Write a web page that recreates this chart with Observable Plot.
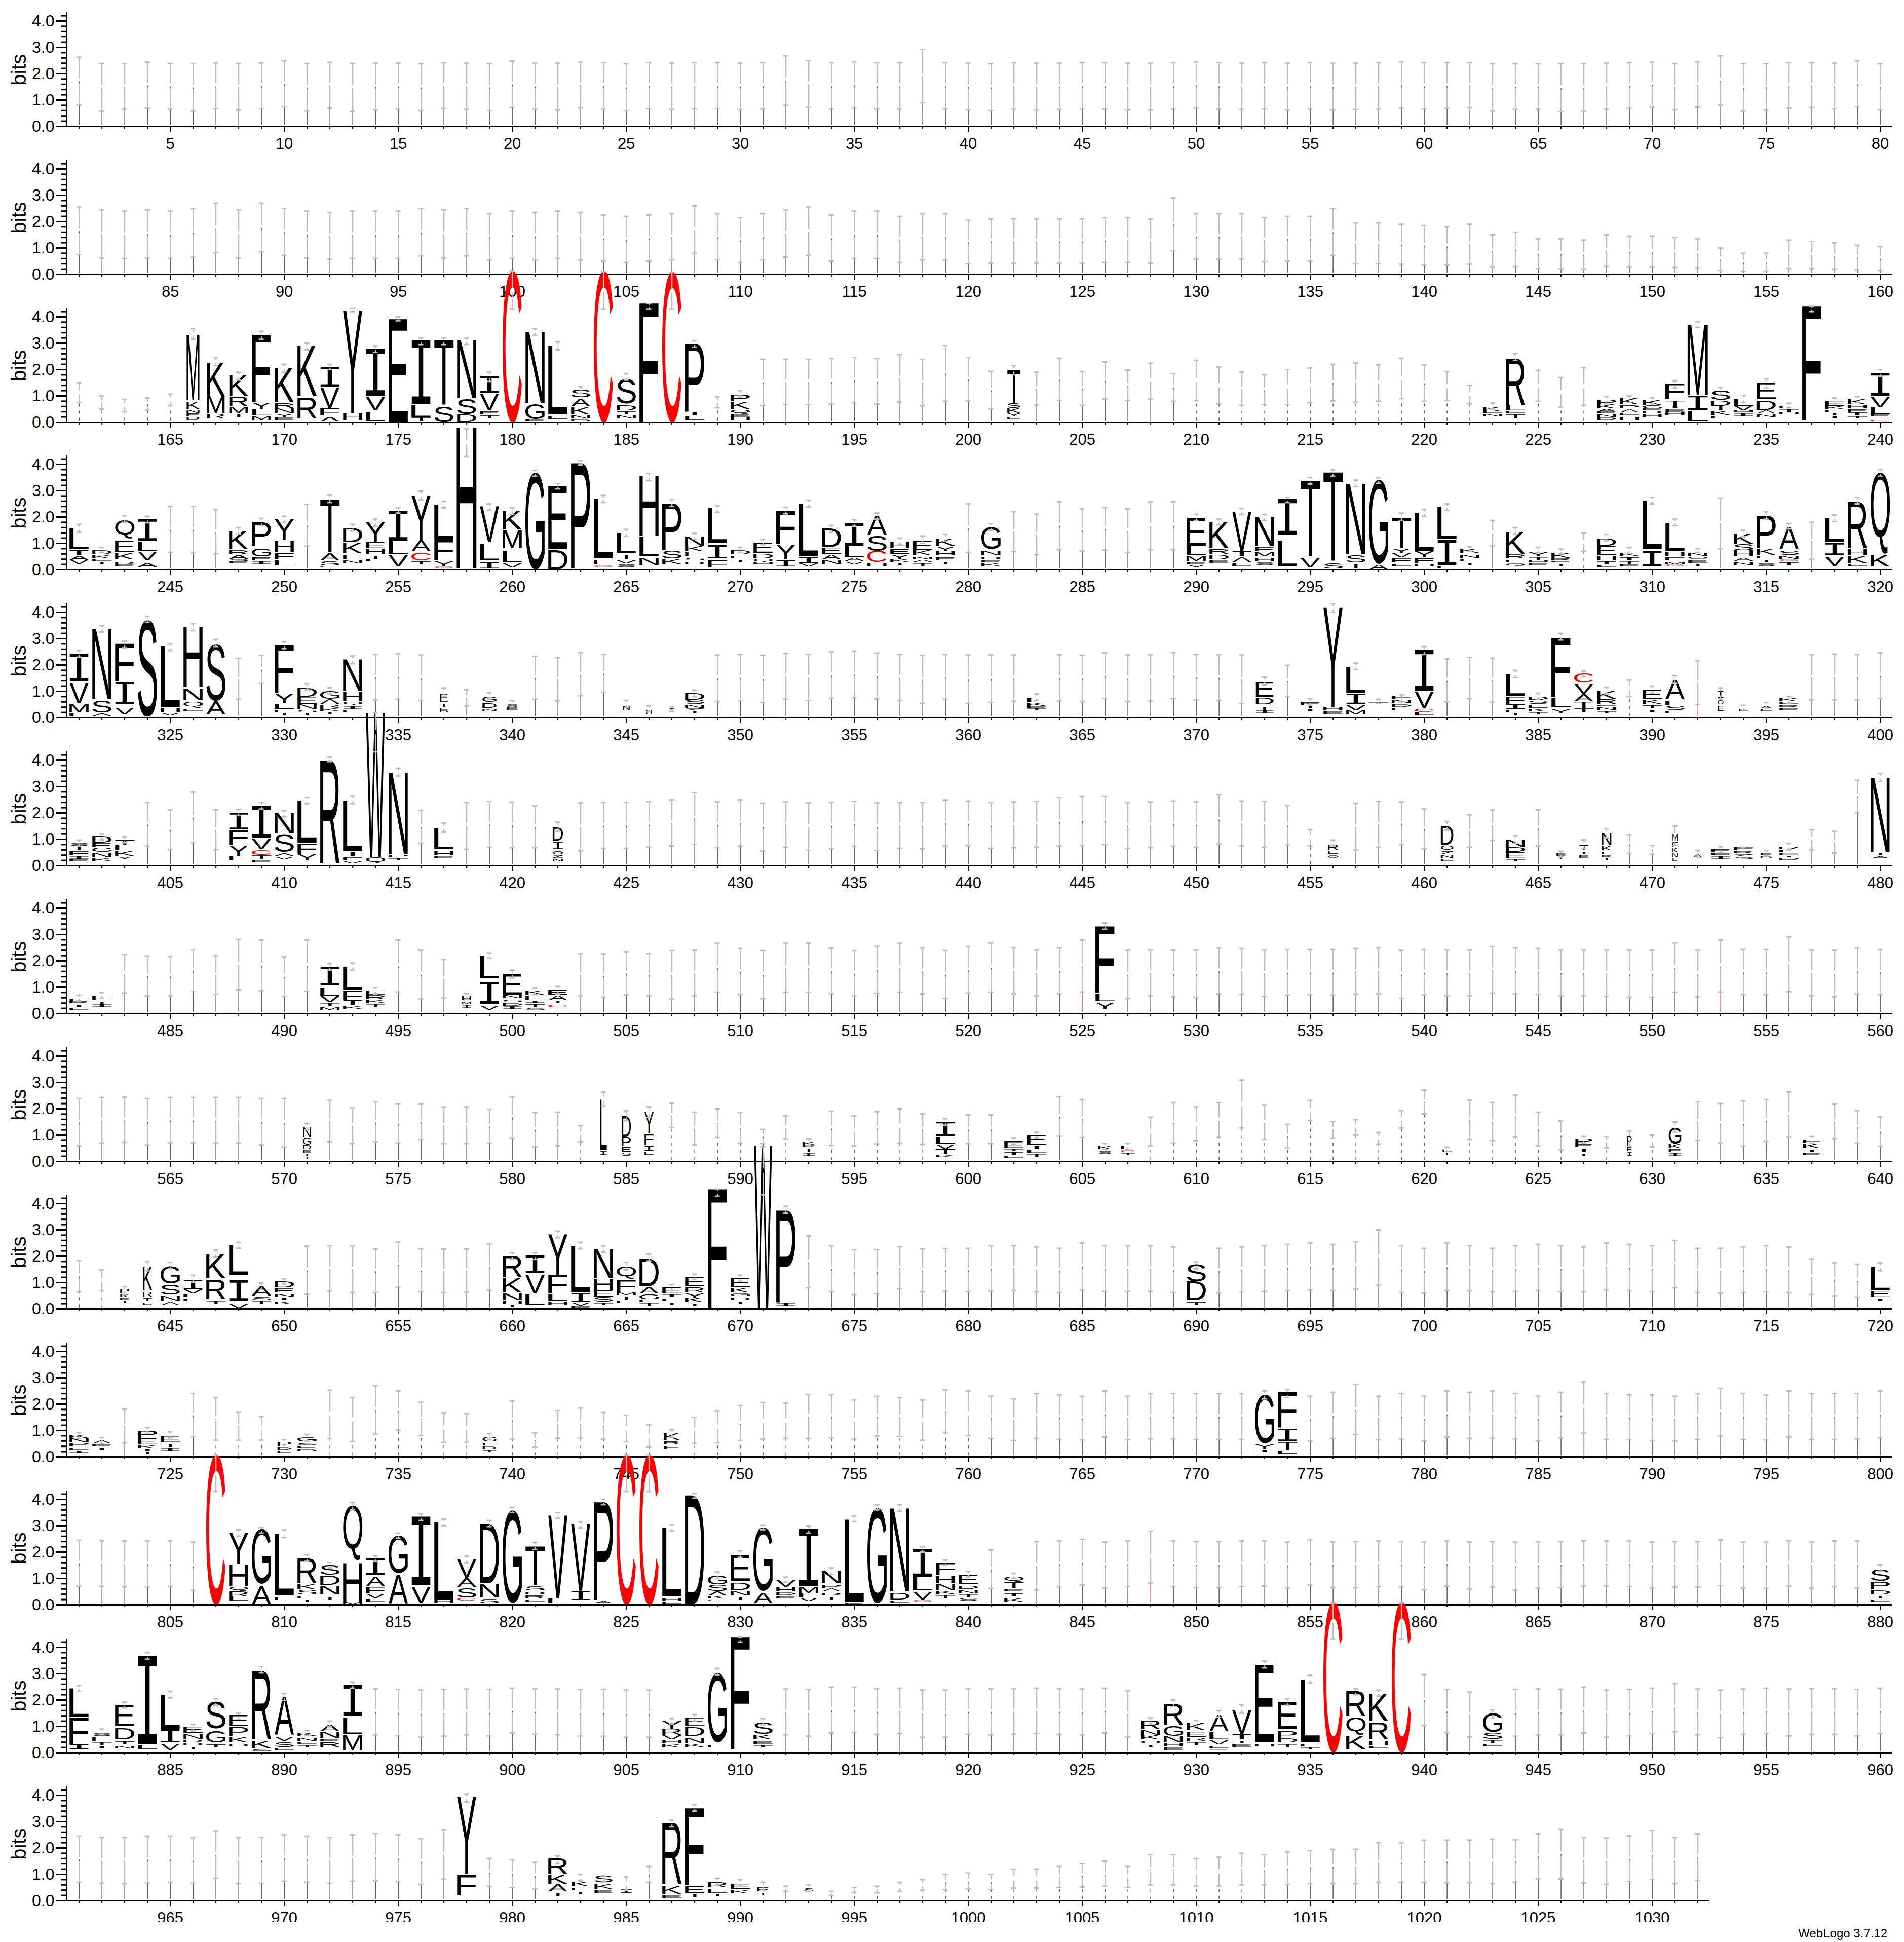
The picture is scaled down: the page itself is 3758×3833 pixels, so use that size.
<!DOCTYPE html>
<html><head><meta charset="utf-8">
<style>html,body{margin:0;padding:0;background:#fff;overflow:hidden}svg{display:block}
#credit{position:absolute;right:33px;top:3802px;font:24px "Liberation Sans",Arial,sans-serif;color:#000}</style>
<script src="https://cdn.jsdelivr.net/npm/d3@7"></script>
<script src="https://cdn.jsdelivr.net/npm/@observablehq/plot@0.6"></script>
</head><body><div id="chart"></div><div id="credit">WebLogo 3.7.12</div>
<script>
const yMajor=[0,1,2,3,4];
const yMinor=[.2,.4,.6,.8,1.2,1.4,1.6,1.8,2.2,2.4,2.6,2.8,3.2,3.4,3.6,3.8,4.2];
const redFull=[392,525,553,787,848];
const redTip=[428,445,580,622,728,740];
const redBase=[136,142];
const dashedRanges=[[161,165],[189,189],[210,222],[225,227],[307,307],[389,389],[455,455],[583,583],[587,598],[606,630],[641,643],[727,760],[995,1012]];

const hiR01=[2.63,2.39,2.39,2.44,2.39,2.39,2.41,2.39,2.41,2.49,2.39,2.43,2.39,2.4,2.4,2.38,2.42,2.4,2.38,2.48,2.4,2.4,2.45,2.42,2.38,2.42,2.4,2.42,2.42,2.4,2.42,2.68,2.5,2.42,2.45,2.42,2.42,2.92,2.42,2.4,2.38,2.42,2.4,2.4,2.42,2.42,2.4,2.4,2.42,2.45,2.42,2.4,2.42,2.4,2.42,2.4,2.4,2.42,2.45,2.42,2.42,2.42,2.38,2.38,2.38,2.38,2.38,2.4,2.42,2.45,2.38,2.45,2.68,2.38,2.38,2.42,2.42,2.4,2.49,2.38];
const loR01=[.81,.58,.65,.69,.65,.58,.67,.62,.67,.75,.58,.69,.56,.62,.65,.6,.68,.65,.6,.72,.65,.62,.7,.66,.6,.67,.64,.66,.68,.64,.66,.8,.72,.66,.7,.66,.66,.9,.66,.62,.6,.66,.62,.64,.66,.66,.62,.62,.66,.7,.66,.64,.66,.62,.66,.62,.64,.66,.7,.66,.68,.71,.58,.65,.65,.56,.58,.65,.69,.73,.63,.73,.81,.58,.62,.69,.71,.67,.75,.62];
const hiR02=[2.55,2.45,2.4,2.45,2.4,2.5,2.7,2.45,2.7,2.5,2.4,2.35,2.4,2.4,2.4,2.5,2.45,2.5,2.3,2.4,2.35,2.4,2.35,2.25,2.2,2.25,2.3,2.6,2.3,2.15,2.3,2.45,2.55,2.25,2.4,2.4,2.2,2.3,2.3,2.05,2.1,2.1,2.1,2.1,2.1,2.15,2.15,2.1,2.9,2.3,2.3,2.3,2.15,2.2,2.2,2.5,1.95,1.95,1.9,1.85,1.8,1.9,1.5,1.6,1.35,1.35,1.3,1.5,1.45,1.45,1.4,1.35,1,.8,.8,1.3,1.25,1.2,1.1,1.05];
const loR02=[.75,.62,.6,.62,.6,.66,.82,.62,.85,.72,.62,.58,.6,.6,.6,.7,.62,.7,.55,.6,.55,.6,.55,.5,.45,.5,.55,.8,.55,.45,.55,.65,.72,.5,.6,.6,.45,.55,.55,.4,.42,.42,.42,.42,.42,.45,.45,.42,.9,.58,.58,.58,.48,.5,.5,.72,.4,.4,.38,.35,.35,.38,.28,.3,.22,.22,.2,.3,.28,.28,.26,.24,.15,.12,.12,.22,.22,.2,.18,.15];
const hiR03=[1.5,1,.87,.92,1.07,3.55,2.45,1.9,3.45,2.2,3,2.2,4.33,2.9,4,3.2,3.2,3.2,1.9,5.75,3.55,3.05,1.35,5.72,1.85,4.5,5.7,3.1,.97,1.2,2.39,2.39,2.39,2.42,2.46,2.42,2.57,2.39,2.92,2.46,1.93,2.15,1.9,2.43,1.92,2.29,1.98,2.24,1.85,2.35,2.1,1.9,1.8,2,2.06,2.2,2.25,2.18,2.43,2.18,1.92,1.4,.73,2.6,1.97,1.7,2.07,.98,1,.93,1.58,3.82,1.32,1.02,1.65,.72,4.42,.92,.97,2];
const loR03=[.75,.5,.4,.47,.63,3.15,2.15,1.6,3.15,1.9,2.75,2,4.2,2.65,3.85,2.95,2.95,2.95,1.55,4.3,3.3,2.75,1.1,4.3,1.6,4.3,4.3,2.85,.55,.95,.64,.67,.67,.69,.74,.69,.77,.63,.8,.81,.51,1.8,.65,.83,.65,.88,.83,.88,.8,.82,.7,.65,.67,.67,.75,.81,.76,.8,.9,.8,.82,.7,.5,2.35,.8,.57,.64,.7,.75,.7,1.3,3.6,1.05,.75,1.3,.55,4.2,.7,.75,1.75];
const hiR04=[1.72,.85,2.05,2.03,2.4,2.4,2.28,1.6,1.95,2.03,2.48,2.83,1.72,1.92,2.35,2.98,2.6,5.35,2.5,2.35,3.77,3.27,4.15,2.82,1.53,3.65,2.67,1.38,2.43,.85,1.15,2.37,2.64,1.68,1.9,2.15,1.2,1.28,1.35,2.5,1.75,2.2,2.11,2.58,2.31,2.36,2.31,2.58,2.58,2.1,1.93,2.33,2.1,2.75,3.5,3.8,3.4,3.49,2.15,2.28,2.5,.87,1.87,1.6,.85,.78,1.4,1.35,.85,2.75,1.92,.8,2.72,1.5,2.2,1.76,1.8,2.08,2.75,3.8];
const loR04=[1.42,.65,1.8,1.78,.66,.66,.6,1.35,1.68,1.8,.9,2.55,1.47,1.65,2.15,2.65,2.35,4.3,2.25,2.1,3.55,3.07,3.98,2.55,1.27,3.38,2.4,1.15,2.18,.65,.95,2.12,2.38,1.42,1.65,1.92,.97,1,1.08,.66,1.5,.69,.57,.76,.71,.75,.66,.76,.76,1.87,1.7,2.1,1.87,2.55,3.25,3.55,3.15,3.28,1.87,2.03,2.25,.7,.9,1.35,.65,.6,.7,1.1,.62,2.5,1.67,.65,.8,1.25,1.92,1.55,.4,1.83,2.5,3.55];
const hiR05=[2.55,3.5,2.9,3.85,2.8,3.57,2.97,2.25,2.37,2.88,1.28,1.14,2.35,2.4,2.43,2.38,1.13,1.06,.95,.65,2.33,2.28,2.47,2.4,.66,.45,.42,1.05,2.38,2.4,2.37,2.44,2.4,2.5,2.53,2.45,2.4,2.37,2.4,2.38,2.38,2.38,.9,2.39,2.37,2.46,2.38,2.39,2.47,2.4,2.39,2.38,1.54,1.99,.72,4.32,2.07,.7,.87,2.7,2.23,2.29,2.26,1.8,.93,3.2,1.77,1.15,1.43,1.2,1.6,2.17,1.13,.47,.58,.8,2.39,2.41,2.4,2.46];
const loR05=[2.3,3.25,2.65,3.62,2.55,3.3,2.7,.7,1.3,2.62,1.05,.9,2.05,.68,.7,.65,.8,.44,.7,.42,.7,.64,.83,.97,.38,.22,.25,.8,.62,.65,.58,.7,.65,.74,.77,.71,.65,.54,.7,.54,.58,.63,.65,.64,.62,.73,.62,.64,.73,.68,.65,.54,1.24,.8,.47,4,1.83,.54,.6,2.4,.6,.72,.59,1.52,.7,2.95,1.55,.9,.8,.93,1.3,.5,.7,.3,.37,.55,.68,.68,.68,.73];
const hiR06=[.97,1.2,1.08,2.4,2.12,2.79,2.12,2.13,2.4,2.08,2.58,4.12,2.63,5.8,3.7,2.1,1.62,2.4,2.44,2.41,2.27,1.65,2.38,2.4,2.4,2.43,2.48,2.77,2.43,2.48,2.37,2.43,2.38,2.4,2.44,2.38,2.4,2.4,2.48,2.45,2.4,2.42,2.44,2.58,2.62,2.62,2.4,2.42,2.45,2.43,2.69,2.45,2.44,2.28,1.37,.97,2.37,2.44,2.42,2.15,1.67,1.93,2.12,1.13,2.12,.55,.98,1.4,1.16,.77,1.5,.58,.72,.7,.58,.85,1.36,1.3,3.24,3.5];
const loR06=[.73,.98,.87,.74,.62,.87,.6,1.9,2.15,1.85,2.35,3.95,2.35,4.32,3.4,.85,1.27,.62,.7,.68,.68,1.3,.56,.66,.66,.7,.75,.81,.68,.75,.56,.7,.58,.64,.74,.58,.66,.64,.75,.75,.66,.68,.7,.75,.77,.8,.66,.68,.74,.7,.82,.75,.7,.8,.75,.75,.59,.7,.8,.64,1.35,.7,.95,.85,.75,.33,.65,1.05,.47,.43,.77,.33,.5,.5,.37,.6,.6,.48,2.01,3.2];
const hiR07=[.7,.8,2.24,2.18,2.17,2.42,2.2,2.81,2.79,2.15,2.79,1.9,1.92,.98,2.79,2.4,2.05,.76,2.3,1.65,.97,1.03,2.28,2.27,2.35,2.28,2.39,2.4,2.67,2.47,2.39,2.67,2.67,2.48,2.39,2.55,2.67,2.49,2.39,2.54,2.68,2.49,2.41,2.49,2.79,3.44,2.4,2.41,2.4,2.4,2.49,2.47,2.41,2.43,2.43,2.43,2.47,2.49,2.4,2.43,2.41,2.41,2.54,2.49,2.47,2.41,2.41,2.41,2.4,2.4,2.68,2.4,2.79,2.43,2.43,2.91,2.41,2.4,2.49,2.43];
const loR07=[.48,.58,.78,.67,.67,.84,.73,.9,.87,.65,.85,1.65,1.65,.75,.82,.56,.6,.55,2.1,1.35,.72,.75,.67,.62,.71,.67,.55,.67,.81,.73,.57,.81,.81,.76,.67,.77,.81,.75,.58,.78,.81,.75,.68,.76,.82,3.2,.57,.68,.64,.62,.75,.73,.65,.7,.72,.7,.74,.75,.58,.7,.68,.68,.78,.75,.73,.68,.68,.65,.62,.62,.81,.64,.82,.72,.72,.83,.68,.64,.75,.72];
const hiR08=[2.39,2.43,2.44,2.39,2.43,2.43,2.43,2.43,2.39,2.39,1.45,2.32,2.05,2.26,2.19,2.19,2.07,2.07,1.98,2.45,1.86,1.87,1.36,2.63,1.92,2.08,2.21,1.87,2,1.86,1.22,1.73,.85,1.91,1.73,1.89,2,1.81,1.63,1.77,1.77,.89,1.11,2.46,2.35,.69,.69,1.68,2.24,2.07,2.23,3.09,2.15,1.41,2.32,1.52,1.59,1.1,1.93,2.71,.55,2.33,2.24,2.52,1.87,1.54,.95,.94,1.15,1,1.5,2.27,2.2,2.3,2.35,2.64,.95,2.19,1.93,1.7];
const loR08=[.6,.7,.72,.63,.71,.71,.7,.7,.63,.55,1.2,.75,.68,.73,.7,.82,.68,.68,.7,.88,.56,.6,.73,2.1,1.55,1.67,1.29,.63,.91,.7,.68,.84,.6,.61,.6,.67,.7,.66,1.38,.68,.68,.65,.88,.96,.91,.45,.45,.6,.7,.77,.91,1.27,.82,.51,1.56,.87,1,.66,1.27,1.81,.38,.82,.77,.93,.6,.45,.7,.52,.58,.56,1.12,.79,.7,.58,.76,.93,.7,.85,.7,.58];
const hiR09=[1.84,1.48,.84,1.8,1.77,1.28,2.23,2.53,.98,1.14,2.38,2.4,2.39,2.27,2.54,2.28,2.27,2.27,2.47,2.13,2.13,2.95,2.53,2.4,1.77,2.08,.92,1.32,4.55,1.28,6.15,3.9,2.77,2.39,2.25,2.25,2.36,2.28,2.29,2.3,2.4,2.4,2.35,2.3,2.5,2.4,2.4,2.4,2.35,1.78,2.3,2.35,2.4,2.45,2.5,2.45,2.55,3,2.4,2.3,2.5,2.4,2.3,2.4,2.45,2.4,2.35,2.5,2.45,2.4,2.6,2.3,2.3,2.35,2.4,2.35,1.9,1.75,1.7,1.75];
const loR09=[.65,.69,.55,1.45,1.53,1.02,1.97,2.3,.73,.95,.56,.67,.62,.62,.82,.65,.62,.64,.71,1.88,1.88,2.7,2.28,2.15,1.48,1.82,.7,1.12,4.28,1.05,4.33,3.63,.8,.65,.55,.58,.76,.65,.67,.65,.68,.7,.65,.62,.72,.66,.66,.66,.62,1.52,.6,.65,.66,.7,.72,.7,.75,.9,.62,.6,.7,.68,.65,.66,.7,.65,.65,.72,.7,.65,.8,.62,.6,.62,.65,.62,.55,.5,.45,1.45];
const hiR10=[.92,.73,1.82,1.12,.95,2.4,2.25,1.7,1.53,.65,.85,2.53,2.25,2.7,2.5,2.07,1.67,1.64,.88,2.12,.91,1.77,1.85,1.7,1.58,1.22,1.03,1.5,1.75,1.95,2.06,2.05,2.36,2.36,2.16,2.3,2.25,2.16,2.54,2.5,2.3,2.2,2.4,2.35,2.3,2.5,2.3,2.4,2.4,2.4,2.4,2.4,2.5,2.55,2.3,2.45,2.75,2.3,2.4,2.3,2.5,2.45,2.5,2.4,2.3,2.45,2.85,2.4,2.35,2.35,2.3,2.4,2.6,2.4,2.35,2.5,2.4,2.4,2.4,2.5];
const loR10=[.7,.5,.53,.88,.72,.76,.63,.63,.63,.45,.6,.69,.58,.87,1.02,.81,.55,.55,.65,.67,.37,.7,.72,.67,.57,.38,.75,.51,.53,.62,.67,.7,.7,.72,.67,.79,.77,.63,.93,.8,.7,.62,.7,.66,.64,.75,.65,.68,.68,.66,.66,.66,2.2,2.25,.6,.7,.85,.65,.68,.6,.75,.7,.72,.68,.6,.72,.9,.66,.65,.62,.6,.66,.8,.66,.64,.75,.66,.66,.68,.72];
const hiR11=[2.45,2.43,2.42,2.42,2.43,2.38,5.7,2.85,2.93,2.85,1.9,1.62,3.88,1.85,2.72,3.45,3.25,1.85,3.2,3.7,2.37,3.5,3.15,4,5.7,5.7,3.05,4.23,1.25,2.05,3.03,1.05,3,1.4,3.37,3.8,3.8,2.2,1.7,1.27,2.08,1.2,2.4,2.42,2.48,2.38,2.42,2.79,2.42,2.4,2.4,2.42,2.43,2.38,2.47,2.39,2.4,2.42,2.4,2.38,2.42,2.38,2.4,2.38,2.39,2.4,2.43,2.42,2.42,2.39,2.4,2.4,2.46,2.38,2.39,2.43,2.39,2.42,2.42,1.52];
const loR11=[.71,.7,.68,.68,.7,.55,4.3,2.6,2.72,2.55,1.65,1.4,3.6,1.65,2.53,3.2,3,1.6,2.97,3.5,2.1,3.28,2.92,3.8,4.3,4.3,2.8,4.05,1,1.8,2.85,.85,2.72,1.15,3.15,3.6,3.55,2,1.5,1.05,.62,1,.56,.69,.75,.63,.69,.82,.69,.65,.65,.69,.71,.63,.75,.65,.65,.69,.69,.56,.71,.6,.67,.56,.63,.65,.71,.71,.69,.63,.67,.67,.73,.63,.63,.71,.63,.69,.63,1.28];
const hiR12=[2.55,.9,1.92,3.8,2.33,1.08,2.05,1.5,3.27,2.25,.85,1.2,2.68,2.42,2.4,2.38,2.4,2.42,2.4,2.45,2.43,2.42,2.4,2.4,2.38,2.38,1.3,1.45,3.2,4.4,1.3,2.42,2.4,2.49,2.49,2.43,2.45,2.38,2.38,2.43,2.43,2.43,2.45,2.43,2.42,2.45,2.35,1.33,2,1.22,1.6,1.82,3.48,2.05,2.95,5.7,2.43,2.38,5.7,2.97,2.4,2.3,1.63,2.4,2.42,2.41,2.49,2.38,2.4,2.45,2.63,2.42,2.38,2.42,2.45,2.42,2.43,2.43,2.4,2.45];
const loR12=[2.33,.7,1.7,3.55,2.08,.83,1.78,1.27,3.03,1.98,.65,.98,2.45,.68,.64,.59,.63,.68,.64,.75,.7,.68,.63,.63,.59,.59,1.1,1.2,2.95,4.2,1.05,.68,.63,.75,.76,.7,.73,.59,.59,.7,.68,.7,.73,.7,.68,.75,.6,1.1,1.75,1,1.35,1.5,3.22,1.8,2.65,4.32,2.2,2.15,4.32,1.03,.76,.6,1.32,.63,.68,.68,.75,.59,.64,.73,.8,.68,.57,.7,.73,.64,.7,.7,.64,.73];
const hiR13=[2.45,2.4,2.4,2.45,2.45,2.4,2.65,2.4,2.4,2.5,2.45,2.4,2.5,2.55,2.5,2.35,2.7,4.05,1.6,1.55,1.45,1.7,1,.95,.9,1.3,3.05,3.65,.85,.8,.7,.55,.6,.35,.5,.55,.7,.8,1,1.05,1,1.2,1.2,1.3,1.4,1.5,1.3,1.75,1.75,1.6,1.65,1.8,1.75,1.85,1.9,1.95,1.95,2.2,2.2,2.3,2.3,2.3,2.33,2.31,2.54,2.72,2.4,2.38,2.46,2.67,2.4,2.54];
const loR13=[.7,.66,.65,.68,.7,.66,.85,.65,.66,.74,.7,.66,.74,.75,.72,.62,.82,3.75,.55,.5,.45,1.4,.75,.7,.4,.7,2.8,3.4,.6,.55,.4,.35,.35,.2,.3,.3,.35,.4,.42,.45,.42,.48,.48,.5,.52,.55,.5,.6,.6,.55,.55,.6,.6,.62,.65,.65,.65,.7,.7,.7,.68,.68,.65,.71,.83,.83,.67,.62,.73,.81,.65,.77];

const stacksR03=[
[166,.57,"M.83-3.32 K.5-.78 N.35-.48 E.22-.33 D.1-.2"],[167,.78,"K1-2.25 M.35-.98 R.15-.33"],[168,.82,"K1-1.75 R.6-.98 M.35-.58 T.2-.33"],
[169,.82,"F.75-3.32 Y.5-.73 L.25-.48 M.1-.23"],[170,.85,"K.75-2.05 R.55-.73 N.35-.53 Y.2-.33 E.1-.18"],[171,.85,"K1-2.9 R.15-.95"],
[172,.85,"I1.35-2.1 V.55-1.3 F.25-.53 A.05-.2"],[173,.85,"Y.35-4.25 H.1-.33"],[174,.85,"I1-2.8 V.45-.95 L.05-.4"],[175,.85,"E0-3.92"],
[176,.85,"I.7-3.1 L.2-.65 T.06-.18"],[177,.85,"T.62-3.1 S.02-.6"],[178,.85,"N.92-3.1 S.3-.9 D.02-.28"],[179,.85,"I1.1-1.75 V.45-1.08 E.3-.42 T.15-.28"],
[180,.85,"C0-5.75"],[181,.85,"N.72-3.42 G.12-.7 E.04-.1"],[182,.85,"L.3-2.9 E.12-.24"],[183,.85,"S.95-1.25 A.6-.9 K.3-.58 N.15-.28 D.05-.13"],
[184,.85,"C0-5.75"],[185,.85,"S.7-1.65 D.45-.65 T.3-.43 N.15-.27"],[186,.85,"F0-4.52"],[187,.85,"C0-5.72"],[188,.85,"P.42-3 I.25-.4 L.1-.23"],
[190,.85,"P.8-1.05 K.5-.78 Q.32-.48 E.2-.3 H.1-.18"],
[202,.58,"T.73-1.98 S.55-.72 K.36-.52 Y.22-.34 E.12-.2"],
[223,.85,"K.42-.58 E.35-.41 N.22-.32"],[224,.84,"R.65-2.45 L.45-.64 E.36-.43 T.15-.3"],
[228,.85,"P.69-.87 K.52-.66 A.41-.5 E.34-.41 N.2-.3 D.1-.18"],[229,.85,"K.69-.9 P.53-.66 A.38-.5 E.28-.36 H.1-.2"],[230,.85,"K.66-.83 G.52-.64 E.45-.51 D.33-.42 H.2-.3"],
[231,.85,"F.87-1.45 T.62-.81 I.52-.61 E.4-.5 H.28-.38"],[232,.9,"M1.04-3.68 I.48-1.02 L.06-.43"],[233,.85,"S.85-1.2 D.62-.81 T.45-.62 K.27-.41 E.15-.25"],
[234,.85,"L.62-.87 V.46-.62 H.38-.45 I.24-.34"],[235,.85,"E.87-1.5 D.48-.81 A.34-.45 N.2-.3"],[236,.85,"E.52-.62 T.4-.5 H.3-.38"],[237,.85,"F.1-4.42"],
[238,.85,"E.62-.81 K.5-.6 E.38-.48 T.26-.36 I.14-.23"],[239,.85,"K.68-.87 H.53-.66 E.38-.5 I.25-.36 T.14-.22"],[240,.85,"I1-1.87 V.57-.97 L.31-.55 E.22-.29 C.05-.09"]];
const stacksR04=[
[241,.85,"L.77-1.57 I.55-.73 A.38-.53 V.22-.36 C.17-.2"],[242,.85,"D.58-.73 K.43-.56 E.34-.41 T.2-.3"],[243,.85,"Q1.19-1.9 E.66-1.11 K.4-.62 R.22-.3 E.12-.2"],
[244,.85,"I1.11-1.9 L.7-1.07 V.35-.66 A.1-.24"],[248,.85,"K.77-1.45 R.58-.73 A.42-.56 S.32-.4 E.24-.3"],[249,.85,"P.92-1.8 G.5-.81 E.35-.46 I.22-.32"],
[250,.85,"Y1.15-1.9 H.66-1.11 F.4-.62 L.17-.36"],[252,.85,"T.66-2.67 A.35-.62 S.16-.32 C.08-.12"],[253,.85,"D1.04-1.58 K.62-1 E.4-.58 N.24-.36"],
[254,.85,"Y1.07-1.8 E.81-1.04 H.58-.77 T.42-.54 L.32-.4"],[255,.85,"I1.11-2.23 L.58-1.07 V.13-.55"],[256,.85,"Y1.15-2.82 A.7-1.11 C.35-.66 T.2-.32"],
[257,.85,"L1.15-2.48 F.36-1.11 Y.13-.33 C.06-.1"],[258,.88,"H.05-5.4"],[259,.85,"V1.04-2.4 L.35-.96 I.05-.28"],[260,.85,"K1.53-2.25 M.81-1.49 L.28-.73 V.09-.24"],
[261,.85,"G0-3.69"],[262,.85,"E.77-3.17 D0-.73"],[263,.85,"P.05-4.05"],[264,.85,"L.43-2.7 E.2-.38 C.1-.16"],[265,.85,"L.62-1.38 T.4-.58 V.24-.36 S.1-.2"],
[266,.85,"H1.27-3.54 L.5-1.23 N.18-.46"],[267,.85,"P.74-2.52 S.43-.73 K.22-.4"],[268,.85,"N.92-1.26 K.7-.89 E.5-.66 S.35-.46 D.2-.3"],[269,.85,"L1-2.33 I.43-.92 F.09-.36"],
[270,.85,"D.58-.73 E.44-.54 T.28-.38"],
[271,.85,"E.64-1.03 D.44-.62 Q.3-.42 H.2-.27"],[272,.85,"F.99-2.23 Y.4-.96 I.12-.36"],[273,.85,"L.5-2.5 I.26-.47 V.12-.24"],[274,.85,"D.85-1.55 E.6-.82 A.4-.57 N.22-.36"],
[275,.85,"I.92-1.76 L.47-.89 A.33-.45 V.2-.3"],[276,.85,"A1.34-2.04 S.71-1.31 C.29-.71 H.15-.27"],[277,.85,"H.82-1.06 E.6-.78 Y.42-.57 K.3-.4 T.16-.26"],
[278,.85,"E.75-1.1 K.54-.73 N.4-.5 A.3-.38 T.14-.24"],[279,.85,"K.92-1.2 Y.71-.89 H.54-.68 E.36-.48 T.2-.3"],[281,.85,"G.78-1.62 N.54-.71 D.4-.5 E.28-.36 K.14-.24"],
[290,.85,"E.92-1.97 L.54-.89 M.33-.5 E.2-.28 V.1-.16"],[291,.85,"K.82-1.8 R.6-.78 D.4-.58 E.26-.36"],[292,.85,"V.71-2.22 I.5-.68 A.29-.47 L.15-.25"],
[293,.85,"N.89-2 E.71-.85 M.5-.65 H.32-.45 S.18-.28"],[294,.85,"I1.31-2.67 L.12-1.1"],[295,.85,"T.47-3.37 V.08-.41"],[296,.85,"T.29-3.7 S.05-.24"],
[297,.85,"N.61-3.27 S.27-.55 T.05-.22"],[298,.85,"G.22-3.41 A.01-.19"],[299,.85,"T.82-1.97 Y.64-.78 V.47-.62 F.28-.42 L.14-.22"],[300,.85,"L.71-2.15 Y.47-.68 F.26-.43 H.12-.2"],
[301,.85,"L1.17-2.39 I.19-1.13 E.05-.14"],[302,.85,"K.64-.78 N.46-.58 E.32-.42 T.18-.26"],[304,.85,"K.61-1.45 R.43-.57 E.28-.38 Q.14-.22"],[305,.85,"Y.5-.65 T.38-.47 H.28-.35 E.16-.24"],
[306,.85,"K.45-.62 R.36-.42 E.28-.32 T.14-.22"],[308,.85,"D.92-1.2 E.57-.89 H.36-.54 I.2-.32 L.1-.16"],[309,.85,"K.52-.65 I.36-.48 T.22-.32 E.12-.18"],[310,.85,"L.78-2.62 I.15-.71"],
[311,.85,"L.71-1.76 H.5-.68 F.36-.48 M.2-.3 C.14-.18"],[312,.85,"N.52-.65 Q.4-.48 E.26-.36 T.14-.22"],[314,.85,"K.99-1.38 S.73-.96 H.5-.71 A.34-.46 N.18-.28"],
[315,.85,"P.82-2.06 K.57-.78 E.43-.52 T.3-.38 S.15-.24"],[316,.85,"A.78-1.62 S.57-.72 N.42-.54 C.34-.39 T.16-.28"],[318,.85,"L1.06-1.94 I.57-1.01 V.15-.5"],
[319,.85,"R.82-2.6 H.54-.78 K.26-.5 E.14-.22"],[320,.85,"Q.6-3.68 K.12-.57"]];
const stacksR05=[
[321,.85,"I1.37-2.42 V.55-1.3 M.2-.52 L.05-.18"],[322,.85,"N.72-3.35 S.2-.66 A.07-.16"],[323,.85,"F1.37-2.8 I.5-1.35 V.13-.38"],[324,.85,"S.04-3.76"],
[325,.85,"L.41-2.69 H.2-.36 V.08-.17"],[326,.85,"H1.16-3.43 N.66-1.11 Q.38-.61 E.26-.34"],[327,.85,"S.66-2.82 A.13-.61"],[330,.85,"F.95-2.74 Y.55-.92 L.34-.5 E.2-.3 T.1-.16"],
[331,.85,"D.8-1.12 E.52-.78 N.34-.5 S.2-.3 T.1-.16"],[332,.85,"G.71-1.02 A.52-.7 R.38-.5 K.26-.36 T.14-.22"],[333,.85,"N1.02-2.2 H.63-1 Q.48-.6 I.34-.44 E.2-.3"],
[337,.35,"E.59-.91 I.4-.55 E.3-.38 D.2-.28"],[339,.62,"G.61-.8 D.38-.56 N.26-.34"],[340,.5,"S.41-.52 E.3-.39"],[345,.3,"N.3-.45"],[346,.25,"H.15-.3"],[347,.2,"T.2-.35"],
[348,.85,"D.68-.92 S.52-.66 N.38-.5 Z.28-.36 T.18-.26"],
[363,.85,"L.59-.75 K.46-.57 E.36-.44 T.28-.34"],[373,.78,"E.8-1.37 D.5-.75 T.3-.42 I.18-.26"],[375,.85,"E.48-.6 T.36-.46 I.24-.34"],[376,.85,"Y.41-4.18 H.27-.38 E.14-.24"],
[377,.85,"L.95-1.93 I.52-.9 V.27-.47 M.13-.27"],[378,.85,"T.5-.56"],[379,.85,"F.73-.84 N.56-.68 D.42-.52 E.28-.38"],[380,.85,"I1.02-2.58 V.38-1 C.21-.33 L.1-.19"],
[384,.85,"L.84-1.64 F.52-.8 I.33-.49 E.2-.3 T.1-.16"],[385,.85,"D.68-.8 S.52-.64 E.37-.48 K.24-.34 T.12-.2"],[386,.85,"F.77-3.02 L.41-.73 Y.16-.3"],
[387,.85,"C1.34-1.69 V.91-1.27 A.63-.9 T.38-.59 T.2-.34"],[388,.85,"K.73-1.02 R.52-.7 E.45-.48 N.3-.4 T.16-.24"],[390,.85,"E.7-1.05 K.52-.66 T.36-.48 I.2-.3"],
[391,.85,"A.7-1.44 L.48-.63 S.3-.44 E.16-.26"],[393,.25,"I.75-1 O.5-.65 E.25-.45"],[394,.4,"E.25-.33"],[395,.5,"A.35-.45 E.25-.32"],[396,.85,"K.62-.73 E.52-.58 R.4-.48 E.28-.36"]];
const stacksR06=[
[401,.85,"S.75-.85 T.6-.72 F.4-.55 I.26-.36 E.16-.22"],[402,.85,"D.87-1.09 E.7-.84 G.52-.68 N.32-.48 K.18-.28"],[403,.85,"T.8-.98 L.59-.78 K.38-.55 Y.26-.34"],
[408,.85,"I1.37-2.01 F.8-1.34 Y.38-.77 L.2-.34"],[409,.85,"I1.05-2.28 V.63-1.02 C.41-.59 T.23-.37 E.12-.2"],[410,.85,"N1.23-1.98 S.52-1.19 A.38-.48 V.24-.34"],
[411,.85,"L.87-2.48 F.45-.84 Y.2-.41"],[412,.85,"R.09-4.03"],[413,.85,"L.55-2.48 I.35-.52 F.2-.32 V.08-.16"],[414,.85,"W.32-5.8 Q.09-.3"],[415,.85,"N.45-3.54 P.33-.41 T.2-.28"],
[417,.85,"L.63-1.44 H.4-.55 E.28-.36"],[422,.45,"D.95-1.44 I.62-.9 O.44-.56 Z.3-.4 N.16-.26"],[456,.45,"R.6-.8 E.45-.56 O.3-.4"],[461,.55,"D.8-1.51 O.6-.75 Z.44-.56 N.3-.4 E.18-.26"],
[464,.85,"N.73-1 D.52-.7 E.27-.48 T.16-.24"],[466,.4,"E.38-.48 T.26-.34"],[467,.4,"T.59-.78 I.44-.54 E.3-.4"],[468,.42,"N.77-1.23 K.59-.73 E.44-.54 R.32-.4 I.2-.28"],
[471,.22,"M.95-1.2 F.7-.9 K.5-.66 N.32-.46 L.18-.28"],[472,.4,"A.32-.44"],[473,.85,"E.5-.61 F.4-.47 I.26-.34"],[474,.85,"F.6-.7 R.48-.56 Z.36-.44 S.24-.32"],[475,.5,"E.4-.48 D.28-.36"],
[476,.85,"R.63-.73 F.5-.6 E.42-.47 T.32-.37 D.22-.28"],[480,.85,"N.52-3.33 T.41-.47 A.28-.36"]];
const stacksR07=[
[481,.85,"F.48-.58 R.4-.46 I.24-.34 E.14-.2"],[482,.85,"E.51-.69 T.38-.46 I.25-.33"],[492,.85,"I1.06-1.76 L.69-.99 V.44-.65 T.3-.4 M.15-.24"],[493,.85,"L.9-1.76 F.51-.85 I.31-.49 K.18-.28"],
[494,.85,"E.72-.87 R.55-.69 K.42-.52 T.26-.36"],[498,.4,"H.5-.65 M.36-.46 I.22-.32"],[499,.85,"L1.33-2.18 I.37-1.19 V.15-.3"],[500,.85,"E.72-1.47 N.58-.69 S.44-.54 D.3-.4 I.18-.26"],
[501,.85,"K.72-.87 E.51-.69 I.42-.48 T.24-.36 S.14-.2"],[502,.85,"E.72-.9 A.51-.69 T.42-.48 C.24-.34"],[526,.85,"F.8-3.32 L.48-.76 Y.16-.4"]];
const stacksR08=[
[571,.35,"N.93-1.3 G.65-.9 D.47-.61 E.34-.44 I.2-.3 T.1-.18"],[584,.3,"L.43-2.35 I.25-.38"],[585,.4,"D.93-1.71 P.58-.9 E.38-.54 S.22-.34"],[586,.4,"Y1.07-1.87 F.65-1.04 I.42-.58 E.26-.38"],
[593,.55,"K.65-.75 E.55-.62 T.38-.5 I.22-.32"],[599,.85,"I.97-1.5 L.68-.9 V.47-.65 T.29-.45 K.16-.24"],[602,.85,"E.5-.75 T.4-.47 I.24-.36 E.14-.2"],[603,.85,"E.65-.99 I.48-.62 L.34-.44 T.18-.28"],
[606,.6,"K.47-.59 S.3-.4"],[607,.6,"L.47-.6 C.36-.44 T.24-.32"],[621,.4,"E.37-.45 T.26-.34"],[627,.75,"P.66-.85 E.54-.65 I.35-.48 T.2-.3"],[629,.2,"P.6-.95 E.4-.55 I.22-.35"],
[631,.55,"G.68-1.29 K.51-.65 E.36-.48 I.22-.32"],[637,.8,"F.7-.82 K.5-.66 I.36-.46 E.24-.32"]];
const stacksR09=[
[643,.4,"P.6-.74 K.46-.56 E.34-.42 I.22-.3"],[644,.4,"K.72-1.58 R.48-.66 I.3-.42 E.16-.24"],[645,.85,"G.96-1.61 S.55-.93 N.31-.48 A.14-.27"],[646,.85,"I.76-1.12 V.58-.72 L.45-.55 F.3-.4"],
[647,.85,"K1.17-2.09 R.38-1.13 T.2-.3"],[648,.85,"L1.3-2.42 I.31-1.08 V.03-.18"],[649,.85,"A.51-.86 S.34-.46 T.2-.3"],[650,.85,"D.82-1.04 E.62-.76 N.48-.58 I.34-.44 K.18-.28"],
[660,.85,"R1.2-2.03 K.62-1.17 N.34-.58 H.2-.31 T.08-.16"],[661,.85,"I1.37-2.03 V.58-1.27 L.14-.55"],[662,.85,"Y1.3-2.82 F.58-1.26 L.31-.55 H.16-.25"],[663,.85,"L.65-2.4 I.27-.6 V.12-.23 F.02-.09"],
[664,.85,"N1.17-2.27 H.72-1.13 E.48-.69 S.27-.45 T.14-.22"],[665,.85,"Q1.13-1.61 F.65-1.08 M.52-.62 T.36-.48 E.22-.32"],[666,.85,"D.86-1.92 A.58-.82 G.38-.55 E.26-.36 T.12-.22"],
[667,.85,"E.58-.79 I.45-.55 F.3-.4 T.14-.24"],[668,.85,"E.86-1.2 R.62-.82 Y.44-.58 K.26-.42 T.12-.2"],[669,.85,"F.03-4.55"],[670,.85,"E.82-1.17 K.62-.78 G.48-.58 D.34-.44 T.18-.28"],
[671,.8,"W0-6.2"],[672,.85,"P.25-3.74 I.12-.2"],[690,.85,"S1.03-1.69 D.33-1.03 T.15-.27"],[720,.85,"L.7-1.6 E.45-.66 I.3-.4"]];
const stacksR10=[
[721,.85,"K.72-.84 N.55-.69 P.41-.54 E.28-.36 I.16-.22"],[722,.85,"A.5-.62 E.4-.47 I.26-.36"],[724,.85,"P.72-1 E.48-.69 K.34-.44 I.22-.3 T.12-.18"],[725,.85,"E.55-.79 T.38-.5 I.24-.34"],
[730,.6,"P.41-.55 D.28-.37 E.16-.24"],[731,.85,"G.58-.72 S.46-.54 E.34-.42 D.22-.3"],[739,.6,"G.58-.76 E.44-.54 D.3-.4 T.18-.26"],[747,.7,"K.65-.89 R.48-.6 E.3-.42"],
[773,.85,"G.5-2.35 Y.32-.47 I.18-.28"],[774,.85,"F1.1-2.45 I.6-1.08 T.28-.58 L.12-.24"]];
const stacksR11=[
[807,.85,"C0-5.7"],[808,.85,"Y1.56-2.72 H.71-1.53 Q.53-.68 R.32-.52 L.16-.3"],[809,.85,"G.78-2.85 A.02-.69"],[810,.85,"L.36-2.7 E.18-.3"],[811,.85,"R.82-1.76 K.59-.78 S.39-.57 E.24-.34 T.12-.2"],
[812,.85,"S1.14-1.53 D.75-1.1 N.39-.71 T.2-.3"],[813,.85,"Q1.71-3.77 H.12-1.56 M.02-.09"],[814,.85,"I1.14-1.74 A.71-1.07 F.43-.68 V.25-.39 L.12-.22 C.06-.09"],[815,.85,"G1.21-2.63 A.07-1.14"],
[816,.85,"I.75-3.34 V.07-.69"],[817,.85,"L.21-3.13 H.07-.18"],[818,.85,"V1.03-1.71 A.68-1 S.28-.64 C.16-.26"],[819,.85,"D.82-3.09 N.28-.78 S.07-.21"],[820,.85,"G.07-3.59"],[821,.85,"T.71-2.2 S.54-.68 D.4-.5 R.24-.36 E.12-.2"],
[822,.85,"V.25-3.39 L.07-.23"],[823,.85,"V.53-3.09 I.18-.5"],[824,.85,"P.2-3.9 A.07-.14"],[825,.85,"C0-5.7"],[826,.85,"C0-5.7"],[827,.85,"L.32-2.92 H.16-.26 E.04-.1"],[828,.85,"D.04-4.16"],
[829,.85,"G.78-1.1 S.53-.75 A.36-.51 K.24-.33 C.14-.18"],[830,.85,"E.89-1.88 D.57-.85 N.36-.53 T.2-.3"],[831,.85,"G.53-2.94 A.07-.46"],[832,.85,"V.68-.92 H.5-.64 D.38-.47 E.24-.32"],
[833,.85,"I.71-2.87 M.46-.68 L.28-.44 V.14-.26"],[834,.85,"N.82-1.28 P.64-.77 A.5-.62 R.38-.46 T.2-.3"],[835,.85,"L.11-3.25 E.03-.08"],[836,.85,"G.07-3.68"],[837,.85,"N.5-3.65 D.21-.45 E.08-.16"],
[838,.85,"I1.07-2.12 L.55-1.03 V.21-.5 C.12-.16"],[839,.85,"F1.14-1.59 H.82-1.1 N.57-.78 K.42-.54 T.26-.36"],[840,.85,"E.78-1.14 D.6-.73 N.44-.56 T.3-.4 S.16-.26"],
[842,.85,"Q.87-1.06 T.62-.83 E.5-.58 I.32-.44 K.12-.24"],[880,.85,"S.9-1.33 P.58-.87 D.4-.54 T.24-.34 E.12-.2"]];
const stacksR12=[
[881,.85,"L1.35-2.44 F.32-1.32 I.14-.3"],[882,.85,"S.64-.75 E.44-.6 T.3-.4 I.16-.26"],[883,.85,"E1-1.8 D.5-.92 T.32-.44 N.16-.26"],[884,.85,"I.32-3.69 L.14-.28"],[885,.85,"L.92-2.2 I.39-.89 V.11-.32"],
[886,.85,"E.75-.96 N.53-.69 R.42-.49 D.28-.38 T.14-.22"],[887,.85,"S.92-1.94 G.39-.82 T.2-.32"],[888,.85,"E1-1.42 P.64-.96 K.4-.6 D.24-.34"],[889,.85,"R.5-3.13 K.18-.46 S.06-.14"],
[890,.85,"A.68-2.1 V.46-.6 S.22-.4 E.1-.18"],[891,.85,"K.64-.75 N.46-.58 E.34-.4 T.2-.28"],[892,.85,"A.82-1.07 N.57-.78 E.44-.52 R.22-.38"],[893,.85,"I1.42-2.58 L.71-1.32 M.11-.68"],
[907,.85,"Y.92-1.21 R.68-.89 V.5-.64 H.36-.47 K.2-.32"],[908,.85,"E1-1.32 D.64-.96 N.38-.58 K.22-.34"],[909,.85,"G.39-3.02 E.2-.3"],[910,.85,"F.14-4.4"],[911,.85,"S.71-1.14 K.5-.68 E.34-.44 T.2-.28"],
[928,.85,"R.89-1.21 N.68-.85 K.5-.64 O.36-.46 T.2-.3"],[929,.85,"R1.07-1.87 G.64-1.03 N.39-.6 H.26-.35 E.1-.2"],[930,.85,"K.85-1.12 E.6-.8 R.46-.57 T.3-.4"],[931,.85,"A.82-1.46 L.5-.78 V.32-.46 E.18-.26 C.1-.13"],
[932,.85,"V.71-1.63 I.5-.68 T.38-.46 E.22-.32"],[933,.85,"E.39-3.34 H.24-.32"],[934,.85,"E.89-1.92 P.57-.82 D.39-.53 T.22-.32"],[935,.85,"L.39-2.77 F.26-.34 T.12-.2"],[936,.85,"C0-5.73"],
[937,.85,"R1.39-2.33 Q.68-1.35 K.14-.64"],[938,.85,"K1.21-2.25 R.5-1.14 H.28-.46 L.18-.24"],[939,.85,"C0-5.73"],[943,.85,"G.78-1.49 S.53-.75 T.38-.48 E.26-.34"]];
const stacksR13=[
[978,.85,"Y1.03-3.95 F.2-.95"],[982,.85,"R1-1.6 K.65-.98 A.35-.62 T.18-.3"],[983,.8,"K.55-.72 E.4-.5 T.24-.34"],[984,.8,"S.7-.95 K.46-.64 E.3-.4"],[985,.5,"I.3-.45"],
[987,.85,"R.65-3 K.25-.55 E.1-.2"],[988,.85,"F.6-3.5 E.3-.55 T.14-.26"],[989,.85,"R.5-.7 E.3-.45 T.16-.26"],[990,.85,"E.45-.65 K.28-.4"],[991,.5,"E.35-.5 T.2-.3"],[993,.4,"S.35-.48"]];

const hiAll=[hiR01,hiR02,hiR03,hiR04,hiR05,hiR06,hiR07,hiR08,hiR09,hiR10,hiR11,hiR12,hiR13];
const loAll=[loR01,loR02,loR03,loR04,loR05,loR06,loR07,loR08,loR09,loR10,loR11,loR12,loR13];
const stacksAll=[[],[],stacksR03,stacksR04,stacksR05,stacksR06,stacksR07,stacksR08,stacksR09,stacksR10,stacksR11,stacksR12,stacksR13];

const FONT='"Liberation Sans",Arial,sans-serif';
const MONO='"Liberation Mono",monospace';
const measure=document.createElement("canvas").getContext("2d");
const ink={};
function glyph(ch){
  if(!ink[ch]){
    measure.font=ch==="I"?'100px "Liberation Mono"':'100px "Liberation Sans"';
    const m=measure.measureText(ch);
    ink[ch]={l:m.actualBoundingBoxLeft,r:m.actualBoundingBoxRight,a:m.actualBoundingBoxAscent,d:m.actualBoundingBoxDescent};
  }
  return ink[ch];
}
function fitLetters(index,scales,values,dim,ctx,next){
  const g=next(index,scales,values,dim,ctx);
  const nodes=g.querySelectorAll("text");
  index.forEach((i,k)=>{
    const d=this.letterData[i],n=nodes[k];if(!n)return;
    const m=glyph(d.ch),w=d.w*45;
    const xc=scales.x(d.pos),yb=scales.y(d.y1),yt=scales.y(d.y2);
    const sx=w/(m.l+m.r),sy=(yb-yt)/(m.a+m.d);
    if(d.ch==="I")n.setAttribute("font-family",MONO),n.style.fontFamily=MONO;
    n.setAttribute("x",m.l);n.setAttribute("y",-m.d);n.setAttribute("text-anchor","start");
    n.setAttribute("transform",`translate(${xc-w/2},${yb}) scale(${sx},${sy})`);
  });
  return g;
}
const re=/([A-Z])(\d*\.?\d+)-(\d*\.?\d+)/g;
const chart=document.getElementById("chart");
const dashed=p=>dashedRanges.some(([a,b])=>p>=a&&p<=b);

hiAll.forEach((hi,r)=>{
  const lo=loAll[r],start=80*r+1,last=start+hi.length-1;
  const columns=hi.map((h,i)=>({pos:start+i,hi:h,lo:lo[i],mid:(h+lo[i])/2,gap:Math.min(.085,(h-lo[i])*.18)}));
  const stacks=stacksAll[r],inStack=new Set(stacks.map(s=>s[0]));
  const letters=stacks.flatMap(([pos,w,spec])=>[...spec.matchAll(re)].map(m=>({pos,w,ch:m[1],y1:+m[2],y2:+m[3]})));
  const stems=columns.filter(d=>!inStack.has(d.pos));
  const solid=stems.filter(d=>!dashed(d.pos)),broken=stems.filter(d=>dashed(d.pos));
  const positions=columns.map(d=>d.pos);
  const major=positions.filter(p=>p%5===0),minor=positions.filter(p=>p%5!==0);
  const xLeft=start-.547,xRight=r===12?last+.52:start+79.52;
  const holder={letterData:letters};
  const svg=Plot.plot({
    width:3758,height:291.8,marginLeft:131,marginRight:24,marginTop:24,marginBottom:42.8,
    x:{domain:[start-.547,start+79.52]},y:{domain:[0,4.327]},
    style:{fontFamily:FONT,overflow:"visible",background:"transparent",color:"#000"},
    marks:[
      Plot.ruleX(solid,{x:"pos",y1:.05,y2:d=>d.mid-.02,stroke:d=>redFull.includes(d.pos)?"#f00":"#000",strokeWidth:1}),
      Plot.ruleX(broken,{x:"pos",y1:.05,y2:d=>d.mid-.02,stroke:d=>redFull.includes(d.pos)?"#f00":"#000",strokeWidth:1,strokeDasharray:"6 8"}),
      Plot.ruleX(columns.filter(d=>redTip.includes(d.pos)),{x:"pos",y1:d=>d.mid-.1,y2:"mid",stroke:"#f00",strokeWidth:1}),
      Plot.ruleX(columns.filter(d=>redBase.includes(d.pos)),{x:"pos",y1:.05,y2:.2,stroke:"#f00",strokeWidth:1}),
      Plot.text(letters,{x:"pos",y:"y1",text:"ch",fontSize:100,textAnchor:"start",fill:d=>d.ch==="C"?"#f00":"#000",render:fitLetters.bind(holder)}),
      Plot.ruleX(columns,{x:"pos",y1:"lo",y2:d=>d.mid-d.gap,stroke:"#bebebe",strokeWidth:2.4}),
      Plot.ruleX(columns,{x:"pos",y1:d=>d.mid+d.gap,y2:"hi",stroke:"#bebebe",strokeWidth:2.4}),
      Plot.ruleY(columns,{y:"hi",x1:d=>d.pos-.11,x2:d=>d.pos+.11,stroke:"#bebebe",strokeWidth:3}),
      Plot.ruleY(columns,{y:"lo",x1:d=>d.pos-.11,x2:d=>d.pos+.11,stroke:"#bebebe",strokeWidth:3}),
      Plot.ruleX([xLeft],{y1:0,y2:4.327,stroke:"#000",strokeWidth:3}),
      Plot.ruleY([0],{x1:xLeft,x2:xRight,stroke:"#000",strokeWidth:3.2}),
      Plot.axisY({ticks:yMajor,tickSize:21,tickPadding:3,fontSize:32,strokeWidth:3,label:null,tickFormat:d3.format(".1f")}),
      Plot.axisY({ticks:yMinor,tickSize:11,strokeWidth:3,label:null,fill:"none"}),
      Plot.axisX({ticks:major,tickSize:11,tickPadding:11,fontSize:31,strokeWidth:2,label:null,tickFormat:d3.format("d")}),
      Plot.axisX({ticks:minor,tickSize:5,strokeWidth:2,label:null,fill:"none"}),
      Plot.text(["bits"],{y:()=>2.15,frameAnchor:"left",dx:-81,rotate:-90,lineAnchor:"bottom",textAnchor:"middle",fontSize:40,fill:"#000"})
    ]
  });
  chart.appendChild(svg);
});
</script></body></html>
